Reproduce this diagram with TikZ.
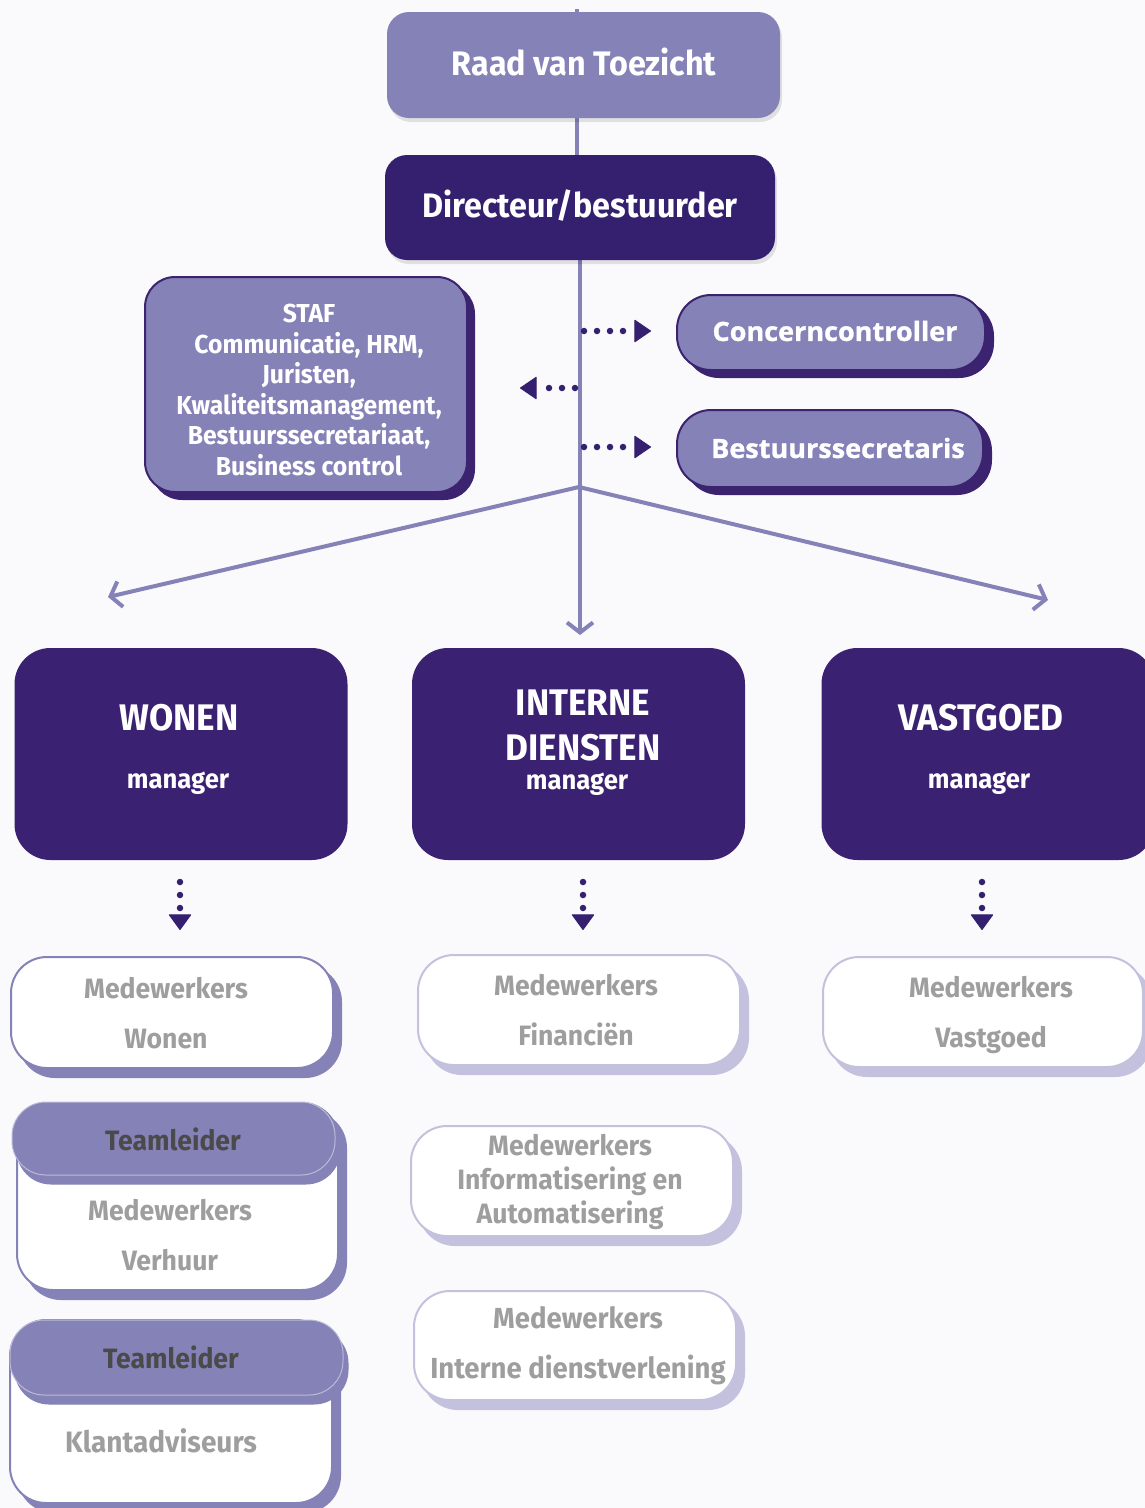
\documentclass[tikz,border=0pt]{standalone}
\usepackage{fontspec}
\setmainfont{Fira Sans}[FakeStretch=0.95]
\newfontfamily\ofont{Open Sans Bold}[FakeBold=1.2, FakeStretch=1.02]
\usetikzlibrary{arrows.meta,shadows}
\definecolor{lav}{HTML}{8582B8}
\definecolor{dpur}{HTML}{34206E}
\definecolor{dpurb}{HTML}{3B2171}
\definecolor{edge}{HTML}{3C2370}
\definecolor{llav}{HTML}{C3C1DE}
\definecolor{gtext}{HTML}{9E9E9E}
\definecolor{tltext}{HTML}{4A4A4A}
\definecolor{bgc}{HTML}{FAFAFC}
\pgfdeclarelayer{back}
\pgfdeclarelayer{lines}
\pgfsetlayers{back,lines,main}
\tikzset{
  topbox/.style={rounded corners=22pt, inner sep=0pt,
    copy shadow={shadow xshift=2pt, shadow yshift=-4pt, fill=black, opacity=0.10, draw=none}},
  toptext/.style={text=white, font=\bfseries\fontsize{34}{40}\selectfont},
  stafbox/.style={rounded corners=30pt, fill=lav, draw=edge, line width=2pt,
    inner sep=0pt,
    copy shadow={shadow xshift=7pt, shadow yshift=-7pt, fill=edge, draw=edge}},
  staftext/.style={text=white, align=center, font=\bfseries\fontsize{26}{30.6}\selectfont},
  pill/.style={rounded corners=34pt, fill=lav, draw=edge, line width=2pt,
    inner sep=0pt,
    copy shadow={shadow xshift=8pt, shadow yshift=-7pt, fill=edge, draw=edge}},
  pilltext/.style={text=white, font=\ofont\fontsize{26.5}{30}\selectfont},
  unitbox/.style={rounded corners=36pt, fill=dpurb, inner sep=0pt},
  unittext/.style={text=white, align=center, font=\bfseries\fontsize{37}{45}\selectfont},
  mgrtext/.style={text=white, font=\bfseries\fontsize{27}{30}\selectfont},
  mwbase/.style={rounded corners=36pt, fill=white, line width=2pt, inner sep=0pt},
  mwdark/.style={mwbase, draw=lav,
    copy shadow={shadow xshift=8pt, shadow yshift=-9pt, fill=lav, draw=lav}},
  mwlight/.style={mwbase, draw=llav,
    copy shadow={shadow xshift=8pt, shadow yshift=-9pt, fill=llav, draw=llav}},
  mwtext/.style={text=gtext, align=center, font=\bfseries\fontsize{28}{50}\selectfont},
  tlhead/.style={rounded corners=34pt, fill=lav, draw=white!45!lav, line width=1pt,
    inner sep=0pt,
    copy shadow={shadow xshift=5pt, shadow yshift=-9pt, fill=lav, draw=lav}},
  tltextst/.style={text=tltext, font=\bfseries\fontsize{28}{30}\selectfont},
  conn/.style={draw=lav, line width=4pt},
  arr/.style={conn, -{Straight Barb[length=10pt,width=26pt]}},
  dotarr/.style={draw=dpur, line width=6.5pt, line cap=round, dash pattern=on 0pt off 13pt,
    -{Triangle[length=17pt,width=23pt,round,line width=1pt]}},
  dotdown/.style={dotarr, -{Triangle[length=16pt,width=23pt,round,line width=1pt]}},
}
\begin{document}
\begin{tikzpicture}[x=1pt,y=-1pt]
\useasboundingbox (0,0) rectangle (1145,1508);
\begin{pgfonlayer}{back}
\fill[bgc] (0,0) rectangle (1145,1508);
\end{pgfonlayer}
\clip (0,0) rectangle (1145,1508);

% top
\node[topbox, fill=lav, minimum width=393pt, minimum height=106pt] (raad) at (583.5,65) {};
\node[toptext] (raadt) at (584,62) {Raad van Toezicht};
\node[topbox, fill=dpur, minimum width=390pt, minimum height=105pt] (dir) at (580,207.5) {};
\node[toptext] (dirt) at (580,206) {Directeur/bestuurder};

% staf and pills
\node[stafbox, minimum width=322pt, minimum height=215pt] (staf) at (306,384.5) {};
\node[staftext] (staft) at (309,390)
  {STAF\\Communicatie, HRM,\\Juristen,\\Kwaliteitsmanagement,\\Bestuurssecretariaat,\\Business control};
\node[pill, minimum width=308pt, minimum height=75pt] (cc) at (831,332.5) {};
\node[pilltext] (cct) at (835,331) {Concerncontroller};
\node[pill, minimum width=306pt, minimum height=77pt] (bs) at (830,448.5) {};
\node[pilltext] (bst) at (838,448) {Bestuurssecretaris};

% coordinates
\coordinate (top) at (577,9);
\coordinate (br) at (579,487);
\coordinate (ltip) at (108,597);
\coordinate (mtip) at (580,635);
\coordinate (rtip) at (1048,600);
\coordinate (d1s) at (584,331);
\coordinate (d1e) at (651,331);
\coordinate (d2s) at (575,388);
\coordinate (d2e) at (520,388);
\coordinate (d3s) at (584,447);
\coordinate (d3e) at (651,447);

\begin{pgfonlayer}{lines}
\draw[conn] (top) -- (top |- dir.north);
\draw[arr] (dir.south) -- (mtip);
\draw[arr] (br) -- (ltip);
\draw[arr] (br) -- (rtip);
\end{pgfonlayer}
\draw[dotarr] (d1s) -- (d1e);
\draw[dotarr] (d2s) -- (d2e);
\draw[dotarr] (d3s) -- (d3e);

% units
\node[unitbox, minimum width=333pt, minimum height=212pt] (wonen) at (181,754) {};
\node[unittext] (wonent) at (179,718) {WONEN};
\node[mgrtext] (wonenm) at (178,783) {manager};
\node[unitbox, minimum width=333pt, minimum height=212pt] (ids) at (578.5,754) {};
\node[unittext] (idst) at (583,725) {INTERNE\\DIENSTEN};
\node[mgrtext] (idsm) at (577,784) {manager};
\node[unitbox, minimum width=333pt, minimum height=212pt] (vast) at (988,754) {};
\node[unittext] (vastt) at (981,718) {VASTGOED};
\node[mgrtext] (vastm) at (979,783) {manager};

% down dotted arrows
\coordinate (w1) at (180,882); \coordinate (w2) at (180,930);
\coordinate (i1) at (583,882); \coordinate (i2) at (583,930);
\coordinate (v1) at (982,882); \coordinate (v2) at (982,930);
\draw[dotdown] (w1) -- (w2);
\draw[dotdown] (i1) -- (i2);
\draw[dotdown] (v1) -- (v2);

% wonen column
\node[mwdark, minimum width=322pt, minimum height=111pt] (mww) at (172,1012.5) {};
\node[mwtext] (mwwt) at (166,1013) {Medewerkers\\Wonen};
\node[mwdark, minimum width=321pt, minimum height=187pt] (tl1box) at (177.5,1196.5) {};
\node[tlhead, minimum width=323pt, minimum height=73pt] (tl1) at (173.5,1138.5) {};
\node[tltextst] (tl1h) at (173,1139) {Teamleider};
\node[mwtext] (tl1t) at (170,1235) {Medewerkers\\Verhuur};
\node[mwdark, minimum width=322pt, minimum height=183pt] (tl2box) at (171,1411.5) {};
\node[tlhead, minimum width=333pt, minimum height=75pt] (tl2) at (176.5,1357.5) {};
\node[tltextst] (tl2h) at (171,1357) {Teamleider};
\node[mwtext, font=\bfseries\fontsize{29.5}{34}\selectfont] (tl2t) at (161,1441) {Klantadviseurs};

% interne diensten column
\node[mwlight, minimum width=322pt, minimum height=110pt] (mwf) at (579,1010) {};
\node[mwtext] (mwft) at (576,1010) {Medewerkers\\Financiën};
\node[mwlight, minimum width=322pt, minimum height=110pt] (mwi) at (572,1181) {};
\node[mwtext, font=\bfseries\fontsize{28}{34}\selectfont] (mwit) at (570,1182) {Medewerkers\\Informatisering en\\Automatisering};
\node[mwlight, minimum width=322pt, minimum height=109pt] (mwd) at (575,1345.5) {};
\node[mwtext, font=\bfseries\fontsize{29}{50}\selectfont] (mwdt) at (578,1346) {Medewerkers\\Interne dienstverlening};

% vastgoed column
\node[mwlight, minimum width=320pt, minimum height=110pt] (mwv) at (983,1012) {};
\node[mwtext] (mwvt) at (991,1015) {Medewerkers\\Vastgoed};
\end{tikzpicture}
\end{document}
